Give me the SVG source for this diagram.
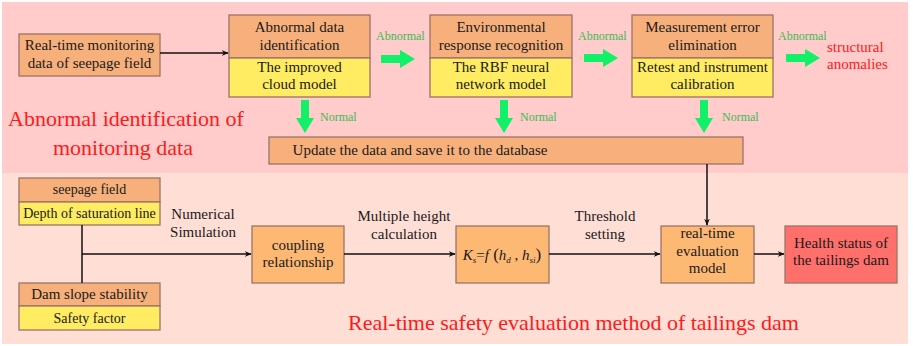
<svg xmlns="http://www.w3.org/2000/svg" width="913" height="346" viewBox="0 0 913 346" font-family="'Liberation Serif', Tinos, 'Times New Roman', 'DejaVu Serif', serif">
<defs>
<style>
.o{fill:#F7B07C;stroke:#9C7468;stroke-width:1.3}
.o2{fill:#FDB874;stroke:#9C7468;stroke-width:1.3}
.y{fill:#FFEC62;stroke:#9C7468;stroke-width:1.3}
.r{fill:#FF6F6B;stroke:#9C7468;stroke-width:1.3}
text{font-family:'Liberation Serif', Tinos, 'Times New Roman', 'DejaVu Serif', serif;fill:#1a1a1a}
.t{font-size:15px;text-anchor:middle}
.s{font-size:14px;text-anchor:middle}
.g{font-size:12px;fill:#3DBB55}
.red{fill:#FF1A1A}
.ln{stroke:#111;stroke-width:1.5;fill:none}
.ga{fill:#11F066}
</style>
<marker id="ar" viewBox="0 0 10 10" refX="9" refY="5" markerWidth="7" markerHeight="7" markerUnits="userSpaceOnUse" orient="auto"><path d="M0,1 L10,5 L0,9 L3,5 Z" fill="#111"/></marker>
</defs>
<rect x="0" y="0" width="913" height="346" fill="#fff"/>
<rect x="2" y="2" width="906" height="171" fill="#FFCBCB"/>
<rect x="2" y="173" width="906" height="171" fill="#FFDED6"/>

<g id="n-source"><rect class="o" x="19" y="34" width="141" height="42"/><text class="t" x="89.5" y="50">Real-time  monitoring</text><text class="t" x="89.5" y="68">data of seepage field</text></g>

<g id="n-abnormal"><rect class="o" x="229" y="15" width="141" height="43"/><rect class="y" x="229" y="58" width="141" height="39"/><text class="t" x="299.5" y="32">Abnormal data</text><text class="t" x="299.5" y="50">identification</text><text class="t" x="299.5" y="72">The improved</text><text class="t" x="299.5" y="89">cloud model</text></g>

<g id="n-env"><rect class="o" x="430" y="15" width="142" height="43"/><rect class="y" x="430" y="58" width="142" height="39"/><text class="t" x="501" y="32">Environmental</text><text class="t" x="501" y="50">response recognition</text><text class="t" x="501" y="72">The RBF neural</text><text class="t" x="501" y="89">network model</text></g>

<g id="n-meas"><rect class="o" x="632" y="15" width="141" height="43"/><rect class="y" x="632" y="58" width="141" height="39"/><text class="t" x="702.5" y="32">Measurement error</text><text class="t" x="702.5" y="50">elimination</text><text class="t" x="702.5" y="72">Retest and instrument</text><text class="t" x="702.5" y="89">calibration</text></g>

<g id="n-struct"><text class="red" x="827" y="52" font-size="15">structural</text><text class="red" x="827" y="69" font-size="15">anomalies</text></g>

<g id="n-update"><rect class="o" x="269" y="137" width="474" height="27"/><text class="t" x="420" y="155">Update the data and save it to the database</text></g>

<g id="t-top"><text class="red" x="8" y="126" font-size="22">Abnormal identification of</text><text class="red" x="53" y="155" font-size="22">monitoring data</text></g>

<g id="n-seep"><rect class="o" x="19" y="178" width="141" height="24"/><rect class="y" x="19" y="202" width="141" height="23"/><text class="s" x="89.5" y="194">seepage field</text><text class="s" x="89.5" y="218">Depth of saturation line</text></g>

<g id="n-dam"><rect class="o" x="19" y="283" width="141" height="23"/><rect class="y" x="19" y="306" width="141" height="24"/><text class="t" x="89.5" y="299">Dam slope stability</text><text class="s" x="89.5" y="323">Safety factor</text></g>

<g id="n-coup"><rect class="o2" x="252" y="226" width="92" height="57"/><text class="t" x="298" y="250">coupling</text><text class="t" x="298" y="267">relationship</text></g>

<g id="n-formula"><rect class="o2" x="456" y="226" width="93" height="57"/><text x="502" y="260" font-size="15" text-anchor="middle" font-style="italic">K<tspan font-size="9" dy="3">s</tspan><tspan dy="-3" font-style="normal">=</tspan>f<tspan font-style="normal" font-size="17"> (</tspan>h<tspan font-size="9" dy="3">d</tspan><tspan dy="-3" font-style="normal"> , </tspan>h<tspan font-size="9" dy="3">si</tspan><tspan dy="-3" font-style="normal" font-size="17">)</tspan></text></g>

<g id="n-eval"><rect class="o2" x="661" y="226" width="93" height="57"/><text class="t" x="707.5" y="238">real-time</text><text class="t" x="707.5" y="256">evaluation</text><text class="t" x="707.5" y="273">model</text></g>

<g id="n-health"><rect class="r" x="785" y="226" width="112" height="57"/><text class="t" x="841" y="248">Health status of</text><text class="t" x="841" y="265">the tailings dam</text></g>

<g id="t-bottom"><text class="red" x="348" y="330" font-size="22">Real-time safety evaluation method of tailings dam</text></g>

<g id="connectors">
<line class="ln" x1="160" y1="53" x2="228" y2="53" marker-end="url(#ar)"/>
<path class="ga" d="M381,55 H400 V50 L415,59 L400,68 V63 H381 Z"/>
<path class="ga" d="M584,54 H603 V49 L618,58 L603,67 V62 H584 Z"/>
<path class="ga" d="M786,54 H805 V49 L820,58 L805,67 V62 H786 Z"/>
<text class="g" x="376" y="40">Abnormal</text>
<text class="g" x="578" y="40">Abnormal</text>
<text class="g" x="778" y="40">Abnormal</text>
<path class="ga" d="M301,100 V118 H296 L305,133 L314,118 H309 V100 Z"/>
<path class="ga" d="M500,100 V118 H495 L504,133 L513,118 H508 V100 Z"/>
<path class="ga" d="M700,100 V118 H695 L704,133 L713,118 H708 V100 Z"/>
<text class="g" x="320" y="121">Normal</text>
<text class="g" x="520" y="121">Normal</text>
<text class="g" x="722" y="121">Normal</text>
<line class="ln" x1="707" y1="164" x2="707" y2="225" marker-end="url(#ar)"/>
<line class="ln" x1="82" y1="225" x2="82" y2="283"/>
<line class="ln" x1="82" y1="254" x2="251" y2="254" marker-end="url(#ar)"/>
<line class="ln" x1="344" y1="254" x2="455" y2="254" marker-end="url(#ar)"/>
<line class="ln" x1="549" y1="254" x2="660" y2="254" marker-end="url(#ar)"/>
<line class="ln" x1="754" y1="254" x2="784" y2="254" marker-end="url(#ar)"/>
<text class="t" x="203" y="219">Numerical</text>
<text class="t" x="203" y="237">Simulation</text>
<text class="t" x="404" y="221">Multiple height</text>
<text class="t" x="404" y="239">calculation</text>
<text class="t" x="605" y="221">Threshold</text>
<text class="t" x="605" y="239">setting</text>
</g>
</svg>
